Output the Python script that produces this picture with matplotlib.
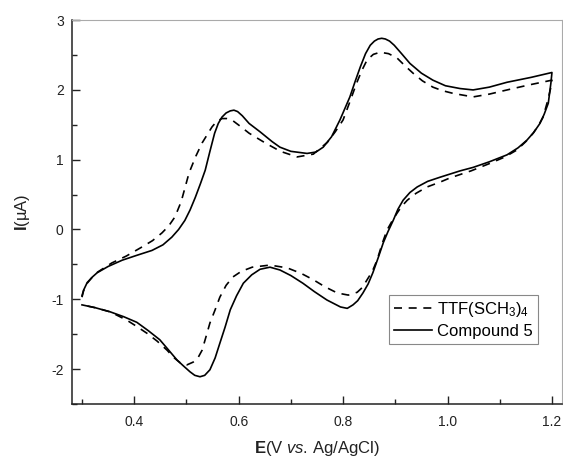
import matplotlib
matplotlib.use('Agg')
import matplotlib.pyplot as plt
from matplotlib.ticker import MultipleLocator

plt.rcParams['font.family'] = ['Liberation Sans', 'DejaVu Sans']
plt.rcParams['mathtext.fontset'] = 'custom'
plt.rcParams['mathtext.rm'] = 'Liberation Sans'
plt.rcParams['mathtext.it'] = 'Liberation Sans:italic'
plt.rcParams['mathtext.bf'] = 'Liberation Sans:bold'
plt.rcParams['axes.unicode_minus'] = False

# Compound 5: anodic sweep 0.3 -> 1.2 V, then return sweep back to 0.3 V
e_comp5 = [0.300, 0.303, 0.310, 0.320, 0.329, 0.350, 0.377, 0.405, 0.434, 0.455,
           0.472, 0.485, 0.497, 0.507, 0.517, 0.527, 0.536, 0.545, 0.554, 0.561,
           0.568, 0.576, 0.584, 0.591, 0.598, 0.607, 0.620, 0.641, 0.664, 0.679,
           0.700, 0.731, 0.748, 0.762, 0.778, 0.794, 0.813, 0.823, 0.833, 0.843,
           0.852, 0.860, 0.867, 0.874, 0.881, 0.889, 0.898, 0.912, 0.928, 0.950,
           0.972, 0.996, 1.024, 1.049, 1.080, 1.114, 1.160, 1.200,
           1.198, 1.193, 1.185, 1.177, 1.165, 1.152, 1.135, 1.114, 1.080, 1.049,
           1.024, 0.986, 0.962, 0.942, 0.928, 0.915, 0.905, 0.896, 0.886, 0.877,
           0.867, 0.857, 0.848, 0.838, 0.828, 0.819, 0.808, 0.795, 0.782, 0.769,
           0.745, 0.723, 0.700, 0.679, 0.660, 0.641, 0.625, 0.609, 0.596, 0.584,
           0.574, 0.564, 0.555, 0.545, 0.535, 0.526, 0.516, 0.507, 0.495, 0.482,
           0.465, 0.449, 0.427, 0.405, 0.380, 0.354, 0.325, 0.300]
i_comp5 = [-0.95, -0.87, -0.76, -0.68, -0.62, -0.53, -0.44, -0.37, -0.30, -0.22,
           -0.11, 0.00, 0.13, 0.28, 0.46, 0.66, 0.85, 1.12, 1.38, 1.52,
           1.61, 1.67, 1.70, 1.71, 1.69, 1.63, 1.52, 1.40, 1.26, 1.18,
           1.12, 1.09, 1.11, 1.18, 1.33, 1.57, 1.90, 2.12, 2.33, 2.52,
           2.64, 2.70, 2.73, 2.74, 2.73, 2.70, 2.64, 2.52, 2.38, 2.24,
           2.14, 2.06, 2.02, 2.00, 2.04, 2.11, 2.18, 2.25,
           2.10, 1.81, 1.65, 1.52, 1.39, 1.28, 1.17, 1.07, 0.97, 0.89,
           0.84, 0.75, 0.69, 0.61, 0.53, 0.42, 0.29, 0.13, -0.03, -0.19,
           -0.41, -0.62, -0.78, -0.91, -1.02, -1.08, -1.13, -1.11, -1.06, -1.01,
           -0.89, -0.77, -0.66, -0.58, -0.54, -0.57, -0.65, -0.77, -0.95, -1.15,
           -1.40, -1.63, -1.84, -2.01, -2.09, -2.11, -2.09, -2.04, -1.96, -1.87,
           -1.72, -1.58, -1.45, -1.33, -1.25, -1.18, -1.12, -1.08]

# TTF(SCH3)4 reference
e_ttf = [0.300, 0.303, 0.310, 0.320, 0.330, 0.357, 0.385, 0.415, 0.435, 0.453,
         0.466, 0.478, 0.490, 0.505, 0.518, 0.530, 0.549, 0.558, 0.568, 0.577,
         0.587, 0.603, 0.620, 0.651, 0.680, 0.712, 0.743, 0.770, 0.785, 0.800,
         0.813, 0.826, 0.836, 0.846, 0.858, 0.871, 0.887, 0.903, 0.918, 0.934,
         0.952, 0.972, 0.990, 1.011, 1.049, 1.080, 1.114, 1.155, 1.200,
         1.198, 1.192, 1.183, 1.174, 1.164, 1.150, 1.133, 1.110, 1.082, 1.045,
         1.005, 0.986, 0.961, 0.940, 0.923, 0.912, 0.903, 0.893, 0.884, 0.875,
         0.865, 0.856, 0.846, 0.837, 0.827, 0.810, 0.789, 0.765, 0.743, 0.720,
         0.693, 0.660, 0.626, 0.605, 0.589, 0.576, 0.564, 0.555, 0.545, 0.537,
         0.530, 0.522, 0.513, 0.501, 0.488, 0.475, 0.463, 0.444, 0.425, 0.405,
         0.386, 0.354, 0.325, 0.300]
i_ttf = [-0.97, -0.88, -0.77, -0.68, -0.61, -0.48, -0.38, -0.25, -0.16, -0.05,
         0.05, 0.18, 0.40, 0.81, 1.05, 1.24, 1.47, 1.55, 1.59, 1.59,
         1.57, 1.48, 1.38, 1.24, 1.12, 1.04, 1.08, 1.25, 1.40, 1.57,
         1.83, 2.10, 2.28, 2.43, 2.51, 2.54, 2.52, 2.46, 2.35, 2.24,
         2.13, 2.04, 1.99, 1.95, 1.90, 1.94, 2.00, 2.07, 2.14,
         2.04, 1.85, 1.61, 1.49, 1.38, 1.26, 1.14, 1.04, 0.95, 0.84,
         0.74, 0.68, 0.61, 0.52, 0.42, 0.33, 0.23, 0.11, -0.01, -0.20,
         -0.44, -0.60, -0.72, -0.83, -0.90, -0.94, -0.91, -0.82, -0.72, -0.63,
         -0.55, -0.51, -0.54, -0.60, -0.68, -0.80, -0.97, -1.15, -1.34, -1.55,
         -1.73, -1.84, -1.90, -1.94, -1.91, -1.83, -1.73, -1.60, -1.49, -1.39,
         -1.30, -1.18, -1.12, -1.08]

fig = plt.figure(figsize=(5.63, 4.58), dpi=100)
ax = fig.add_axes([0.128, 0.118, 0.870, 0.838])

ax.plot(e_ttf, i_ttf, color='black', lw=1.2, dashes=(4.8, 4.0), label='TTF(SCH$_3$)$_4$')
ax.plot(e_comp5, i_comp5, color='black', lw=1.2, label='Compound 5')

ax.set_xlim(0.281, 1.219)
ax.set_ylim(-2.5, 3)
ax.xaxis.set_major_locator(MultipleLocator(0.2))
ax.xaxis.set_minor_locator(MultipleLocator(0.1))
ax.yaxis.set_major_locator(MultipleLocator(1))
ax.yaxis.set_minor_locator(MultipleLocator(0.5))
ax.tick_params(which='both', direction='in', top=False, right=False,
               labelsize=10, color='#222222', labelcolor='#222222')
ax.tick_params(which='major', length=6, width=1)
ax.tick_params(which='minor', length=3.5, width=1)
ax.tick_params(axis='x', which='major', pad=8)
ax.tick_params(axis='y', which='major', pad=6)

for side in ['left', 'bottom']:
    ax.spines[side].set_color('#222222')
    ax.spines[side].set_linewidth(1.1)
for side in ['top', 'right']:
    ax.spines[side].set_color('#aaaaaa')
    ax.spines[side].set_linewidth(0.8)

ax.set_xlabel(r'$\mathbf{E}$(V $\mathit{vs}$. Ag/AgCl)', fontsize=12, color='#222222', labelpad=7)
ax.set_ylabel(r'$\mathbf{I}$(µA)', fontsize=12, color='#222222', labelpad=14)

leg = ax.legend(loc='lower right', bbox_to_anchor=(0.951, 0.156), borderaxespad=0,
                fontsize=12, handlelength=2.3, handletextpad=0.3, labelspacing=0.3,
                borderpad=0.3, fancybox=False, framealpha=1)
leg.get_frame().set_edgecolor('#888888')
leg.get_frame().set_linewidth(0.8)

fig.savefig('out.png', dpi=100)
